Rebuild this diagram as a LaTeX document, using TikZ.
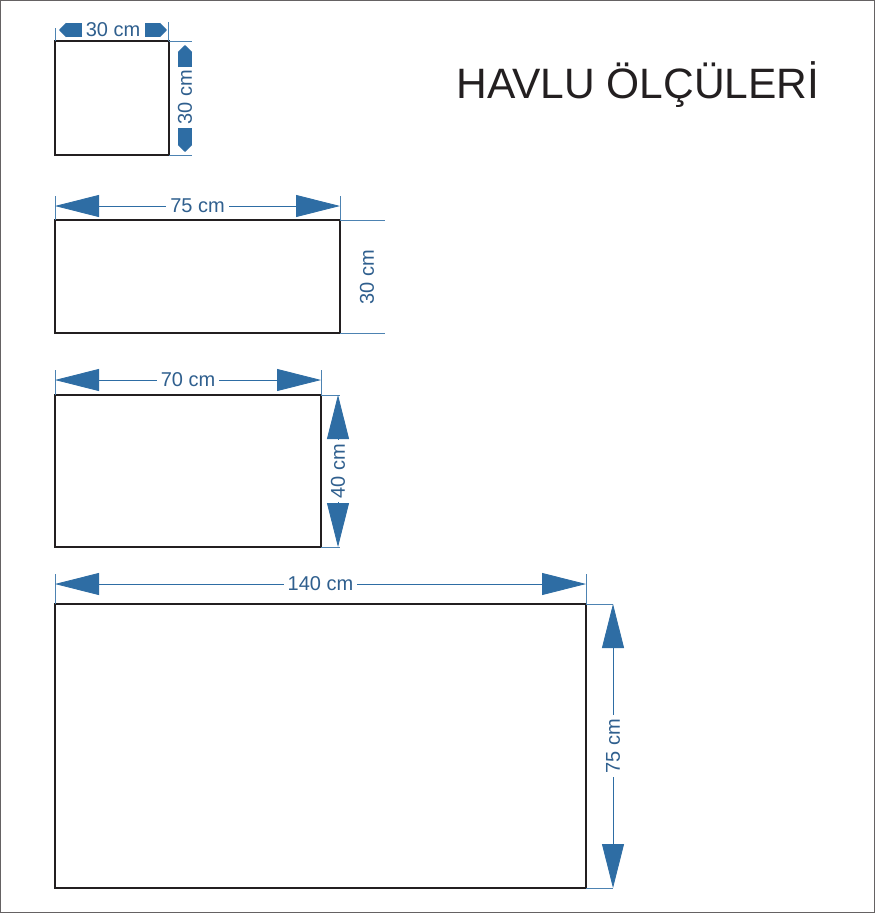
\documentclass[tikz,border=0pt]{standalone}
\usepackage{fontspec}
\setmainfont{Liberation Sans}
\usetikzlibrary{arrows.meta}
\definecolor{DimB}{HTML}{2E6DA4}
\definecolor{DimT}{HTML}{2F5F8E}
\definecolor{Ink}{HTML}{231F20}
\tikzset{%
  towel/.style={draw=Ink, line width=2.2pt},
  dim/.style={draw=DimB, line width=0.8pt,
    {Triangle[length=44pt,width=22pt]}-{Triangle[length=44pt,width=22pt]}},
  ext/.style={draw=DimB!85, line width=0.7pt},
  dim label/.style={text=DimT, font=\fontsize{20}{20}\selectfont, fill=white, inner sep=4pt},
  stub/.style={draw=DimB, line width=14pt, -{Triangle[length=7pt,width=14pt]}},
  title/.style={text=Ink, font=\fontsize{42.5}{42.5}\selectfont}
}
\begin{document}
\begin{tikzpicture}[x=1pt, y=-1pt]
 \useasboundingbox (0,0) rectangle (875,913);
 \fill[white] (0,0) rectangle (875,913);
 \draw[Ink!70, line width=1pt] (0.5,0.5) rectangle (874.5,912.5);

 \node[title] (title) at (638,85) {HAVLU ÖLÇÜLERİ};

 % 30 x 30
 \draw[towel] (55,41) rectangle (169,155);
 \draw[ext] (55,28) -- (55,41);
 \draw[ext] (168,22) -- (168,41);
 \draw[ext] (169,41) -- (192,41);
 \draw[ext] (169,155) -- (192,155);
 \draw[stub] (82,30) -- (59,30);
 \draw[stub] (145,30) -- (167,30);
 \draw[stub] (185,67) -- (185,45);
 \draw[stub] (185,128) -- (185,152);
 \node[dim label, fill=none, inner sep=0pt] (d1w) at (113,30) {30 cm};
 \node[dim label, fill=none, inner sep=0pt, rotate=90] (d1h) at (185,97) {30 cm};

 % 75 x 30
 \draw[towel] (55,220) rectangle (340,333);
 \draw[ext] (55,196) -- (55,220);
 \draw[ext] (340,196) -- (340,220);
 \draw[ext] (340,220) -- (385,220);
 \draw[ext] (340,333) -- (385,333);
 \draw[dim] (55,206) -- (340,206) node[midway, dim label] (d2w) {75 cm};
 \node[dim label, rotate=90] (d2h) at (367,277) {30 cm};

 % 70 x 40
 \draw[towel] (55,395) rectangle (321,547);
 \draw[ext] (55,370) -- (55,395);
 \draw[ext] (321,370) -- (321,395);
 \draw[ext] (321,395) -- (340,395);
 \draw[ext] (321,547) -- (340,547);
 \draw[dim] (55,380) -- (321,380) node[midway, dim label] (d3w) {70 cm};
 \draw[dim] (338,395) -- (338,547) node[midway, dim label, rotate=90] (d3h) {40 cm};

 % 140 x 75
 \draw[towel] (55,604) rectangle (586,888);
 \draw[ext] (55,574) -- (55,604);
 \draw[ext] (586,574) -- (586,604);
 \draw[ext] (586,604) -- (613,604);
 \draw[ext] (586,888) -- (613,888);
 \draw[dim] (55,584) -- (586,584) node[midway, dim label] (d4w) {140 cm};
 \draw[dim] (613,604) -- (613,888) node[midway, dim label, rotate=90] (d4h) {75 cm};

\end{tikzpicture}
\end{document}
